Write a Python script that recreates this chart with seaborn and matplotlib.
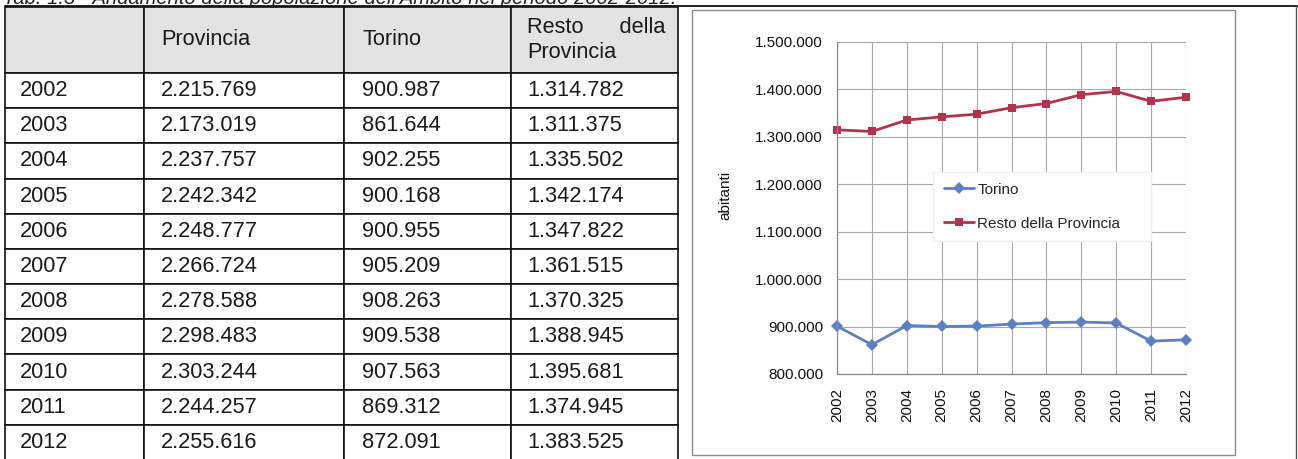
import pandas as pd
import numpy as np
import seaborn as sns
import matplotlib
matplotlib.use("Agg")
import matplotlib.pyplot as plt
import matplotlib.ticker as ticker
from matplotlib.lines import Line2D
from matplotlib.patches import Rectangle

anni = [2002, 2003, 2004, 2005, 2006, 2007, 2008, 2009, 2010, 2011, 2012]
provincia = [2215769, 2173019, 2237757, 2242342, 2248777, 2266724,
             2278588, 2298483, 2303244, 2244257, 2255616]
torino = [900987, 861644, 902255, 900168, 900955, 905209,
          908263, 909538, 907563, 869312, 872091]
resto = [1314782, 1311375, 1335502, 1342174, 1347822, 1361515,
         1370325, 1388945, 1395681, 1374945, 1383525]
intestazioni = ["", "Provincia", "Torino", "Resto      della\nProvincia"]
serie = ["Torino", "Resto della Provincia"]
titolo = "Tab. 1.3 - Andamento della popolazione dell'Ambito nel periodo 2002-2012."

W, H = 1298, 459


def fmt(v):
    return "{:,}".format(int(v)).replace(",", ".")


def px(x0, y0, x1, y1):
    # pixel box (top-left origin) -> figure fraction rect
    return [x0 / W, 1 - y1 / H, (x1 - x0) / W, (y1 - y0) / H]


sns.set_style("white")
plt.rcParams['font.family'] = ['Liberation Sans', 'DejaVu Sans']

fig = plt.figure(figsize=(W / 100, H / 100), dpi=100)

# caption, mostly cut off by the top edge as in the scan
fig.text(3 / W, 1 - 4 / H, titolo, fontsize=14.5, style='italic',
         color='#222222', va='baseline', ha='left')

# ---- table ----
tax = fig.add_axes(px(5, 7, 678, 460))
tax.axis('off')
righe = [[str(a), fmt(p), fmt(t), fmt(r)] for a, p, t, r in zip(anni, provincia, torino, resto)]
col_w = [139, 200, 167, 167]
tab = tax.table(cellText=righe, colLabels=intestazioni, colWidths=col_w,
                cellLoc='left', colLoc='left', bbox=[0, 0, 1, 1])
tab.auto_set_font_size(False)
pads = [0.108, 0.085, 0.108, 0.096]
for (r, c), cell in tab.get_celld().items():
    cell.set_linewidth(1.2)
    cell.set_edgecolor('#111111')
    cell.PAD = pads[c]
    cell.get_text().set_fontsize(15.7)
    cell.get_text().set_color('#1a1a1a')
    if r == 0:
        cell.set_facecolor('#e3e3e3')
        cell.set_height(66)
        cell.get_text().set_linespacing(1.3)
    else:
        cell.set_facecolor('white')
        cell.set_height(35.2)

# outer frame of the document table around the chart cell
fig.add_artist(Line2D([5 / W, 1], [1 - 6 / H, 1 - 6 / H], color='#111111', lw=1.3))
fig.add_artist(Line2D([1296 / W, 1296 / W], [0, 1 - 6 / H], color='#555555', lw=1.0))

# chart frame
x0, y0, w0, h0 = px(692, 10, 1235, 455)
fig.add_artist(Rectangle((x0, y0), w0, h0, transform=fig.transFigure,
                         fill=False, edgecolor='#8a8a8a', lw=1.0))

# ---- chart ----
df = pd.DataFrame({
    "anno": anni * 2,
    "abitanti": torino + resto,
    "serie": [serie[0]] * len(anni) + [serie[1]] * len(anni),
})

ax = fig.add_axes(px(837, 42, 1186, 374))
sns.lineplot(data=df, x="anno", y="abitanti", hue="serie", style="serie",
             hue_order=serie, style_order=serie,
             palette={serie[0]: '#5d80c4', serie[1]: '#b3334f'},
             markers={serie[0]: 'D', serie[1]: 's'}, dashes=False,
             linewidth=2, markersize=6, markeredgewidth=0,
             clip_on=False, ax=ax, legend=True)

ax.set_xlim(2002, 2012)
ax.set_ylim(800000, 1500000)
ax.yaxis.set_major_locator(ticker.MultipleLocator(100000))
ax.yaxis.set_major_formatter(ticker.FuncFormatter(lambda v, p: fmt(v)))
ax.set_xticks(anni)
ax.set_xticklabels([str(a) for a in anni], rotation=90)
ax.tick_params(axis='both', labelsize=11, colors='#111111', length=4,
               width=0.8, direction='out')
ax.tick_params(axis='x', pad=6, color='#888888')
ax.tick_params(axis='y', pad=6, color='#888888')
ax.set_xlabel("")
ax.set_ylabel("")
ax.grid(True, color='#a8a8a8', lw=0.8)
for s in ['top', 'right']:
    ax.spines[s].set_visible(False)
for s in ['left', 'bottom']:
    ax.spines[s].set_color('#888888')
    ax.spines[s].set_linewidth(0.9)

fig.text(725 / W, 1 - 195 / H, "abitanti", rotation=90, fontsize=11,
         color='#111111', ha='center', va='center')

handles, labels = ax.get_legend_handles_labels()
leg = ax.legend(handles, labels, loc='upper left',
                bbox_to_anchor=(0.275, 0.398, 0.625, 0.21), mode='expand',
                borderaxespad=0, borderpad=0.7, labelspacing=1.3,
                handlelength=2.0, handletextpad=0.2, fontsize=11,
                frameon=True, fancybox=False, framealpha=1)
leg.get_frame().set_facecolor('white')
leg.get_frame().set_edgecolor('#f0f0f0')

plt.savefig("out.png", dpi=100)
plt.close()
